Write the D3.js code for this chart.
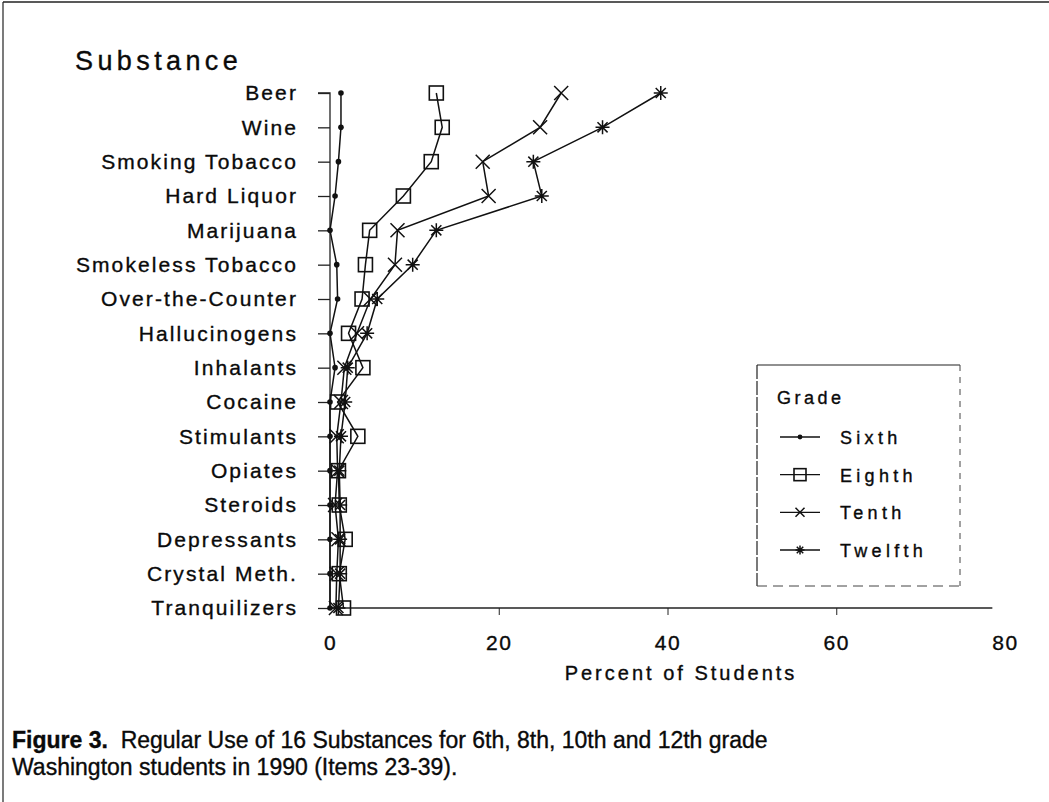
<!DOCTYPE html>
<html><head><meta charset="utf-8">
<script src="https://cdn.jsdelivr.net/npm/d3@7"></script>
<style>
body{margin:0;background:#fff;}
svg{display:block;}
text{font-family:"Liberation Sans",Arial,Helvetica,sans-serif;fill:#0a0a0a;}
.lbl{stroke:#0a0a0a;stroke-width:0.35px;}
</style></head>
<body>
<svg id="chart" width="1049" height="802"></svg>
<script>
const substances = ["Beer","Wine","Smoking Tobacco","Hard Liquor","Marijuana","Smokeless Tobacco","Over-the-Counter","Hallucinogens","Inhalants","Cocaine","Stimulants","Opiates","Steroids","Depressants","Crystal Meth.","Tranquilizers"];
const sixth   = [1.3,1.3,1.0,0.6,0.0,0.8,0.9,0.0,0.6,0.0,0.0,0.0,0.0,0.0,0.0,0.0];
const eighth  = [12.6,13.3,12.0,8.7,4.7,4.2,3.8,2.2,3.9,0.9,3.3,1.0,1.1,1.8,1.1,1.6];
const tenth   = [27.4,24.9,18.1,18.8,8.0,7.7,4.8,3.2,1.7,1.3,0.8,0.9,0.6,1.0,0.8,0.7];
const twelfth = [39.2,32.3,24.1,25.1,12.6,9.8,5.6,4.4,2.1,1.8,1.3,1.1,1.2,1.2,1.2,1.0];
const xTicks  = [0,20,40,60,80];
const grades  = ["Sixth","Eighth","Tenth","Twelfth"];
const seriesList = [sixth, eighth, tenth, twelfth];
const captionBold = "Figure 3.";
const captionLine1 = "  Regular Use of 16 Substances for 6th, 8th, 10th and 12th grade";
const captionLine2 = "Washington students in 1990 (Items 23-39).";

const svg = d3.select("#chart");
const x = d3.scaleLinear().domain([0,80]).range([330,1005]);
const y = d3.scalePoint().domain(substances).range([93,608]);

// frame
svg.append("line").attr("x1",3).attr("x2",1049).attr("y1",2).attr("y2",2).attr("stroke","#222").attr("stroke-width",1.6);
svg.append("line").attr("x1",3).attr("x2",3).attr("y1",2).attr("y2",802).attr("stroke","#222").attr("stroke-width",1.2);

// y axis
const yAxis = d3.axisLeft(y).tickSize(12).tickPadding(20);
const gy = svg.append("g").attr("transform",`translate(${x(0)},0)`).call(yAxis);
gy.select(".domain").attr("d",`M-12,${y(substances[0])}H0V${y(substances[substances.length-1])}`).attr("stroke","#222").attr("stroke-width",1.3);
gy.selectAll(".tick line").attr("stroke","#222").attr("stroke-width",1.3);
gy.selectAll(".tick text").attr("class","lbl").attr("font-size",21).attr("letter-spacing","2.1px").attr("fill","#0a0a0a").attr("font-family","Liberation Sans, Arial, sans-serif");

// x axis
const xAxis = d3.axisBottom(x).tickValues(xTicks).tickSize(7).tickPadding(20);
const gx = svg.append("g").attr("transform",`translate(0,${y(substances[substances.length-1])})`).call(xAxis);
gx.select(".domain").attr("d",`M${x(0)},0H${x(78.5)}`).attr("stroke","#222").attr("stroke-width",1.3);
gx.selectAll(".tick line").attr("stroke","#222").attr("stroke-width",1);
gx.selectAll(".tick").filter(d=>d===0||d===80).select("line").remove();
gx.selectAll(".tick text").attr("class","lbl").attr("font-size",21).attr("letter-spacing","1.5px").attr("fill","#0a0a0a").attr("font-family","Liberation Sans, Arial, sans-serif");

svg.append("text").attr("class","lbl").attr("x",681).attr("y",680).attr("text-anchor","middle").attr("font-size",20).attr("letter-spacing","3px").text("Percent of Students");
svg.append("text").attr("class","lbl").attr("x",75).attr("y",70).attr("font-size",27).attr("letter-spacing","4.4px").text("Substance");

// lines
const line = d3.line().x(d=>x(d[0])).y(d=>y(d[1]));
seriesList.forEach(vals=>{
  svg.append("path").datum(vals.map((v,i)=>[v,substances[i]])).attr("d",line)
    .attr("fill","none").attr("stroke","#111").attr("stroke-width",1.5);
});

function drawMarker(g, type, cx, cy, s){
  if(type===0){
    g.append("circle").attr("cx",cx).attr("cy",cy).attr("r",s*0.2).attr("fill","#111");
  } else if(type===1){
    g.append("rect").attr("x",cx-s/2).attr("y",cy-s/2).attr("width",s).attr("height",s).attr("fill","none").attr("stroke","#111").attr("stroke-width",1.6);
  } else if(type===2){
    const h=s/2;
    g.append("path").attr("d",`M${cx-h},${cy-h}L${cx+h},${cy+h}M${cx-h},${cy+h}L${cx+h},${cy-h}`).attr("stroke","#111").attr("stroke-width",1.5);
  } else {
    const h=s/2, d=s*0.36;
    g.append("path").attr("d",`M${cx-d},${cy-d}L${cx+d},${cy+d}M${cx-d},${cy+d}L${cx+d},${cy-d}M${cx},${cy-h}L${cx},${cy+h}M${cx-h},${cy}L${cx+h},${cy}`).attr("stroke","#111").attr("stroke-width",1.5);
  }
}
const mg = svg.append("g");
seriesList.forEach((vals,si)=>{
  vals.forEach((v,i)=>drawMarker(mg, si, x(v), y(substances[i]), 14));
});

// legend
const lg = svg.append("g");
lg.append("path").attr("d","M757,365H960").attr("stroke","#222").attr("stroke-width",1.2);
lg.append("path").attr("d","M757,365V586").attr("stroke","#222").attr("stroke-width",1.2).attr("stroke-dasharray","14,2");
lg.append("path").attr("d","M960,365V586").attr("stroke","#444").attr("stroke-width",1).attr("stroke-dasharray","6,6");
lg.append("path").attr("d","M757,586H960").attr("stroke","#444").attr("stroke-width",1).attr("stroke-dasharray","10,6");
lg.append("text").attr("class","lbl").attr("x",777).attr("y",404).attr("font-size",18).attr("letter-spacing","3.5px").text("Grade");
const legY = d3.scalePoint().domain(grades).range([437,550]);
grades.forEach((g,i)=>{
  const yy = legY(g);
  lg.append("line").attr("x1",780).attr("x2",820).attr("y1",yy).attr("y2",yy).attr("stroke","#111").attr("stroke-width",1.3);
  drawMarker(lg, i, 800, yy, i===1?12:(i===0?12:9));
  lg.append("text").attr("class","lbl").attr("x",840).attr("y",yy+7).attr("font-size",18).attr("letter-spacing","4.3px").text(g);
});

// caption
const cap = svg.append("text").attr("class","lbl").attr("x",12).attr("y",748).attr("font-size",23);
cap.append("tspan").attr("font-weight","bold").text(captionBold);
cap.append("tspan").attr("xml:space","preserve").text(captionLine1);
svg.append("text").attr("class","lbl").attr("x",12).attr("y",775).attr("font-size",23).text(captionLine2);
</script>
</body></html>
